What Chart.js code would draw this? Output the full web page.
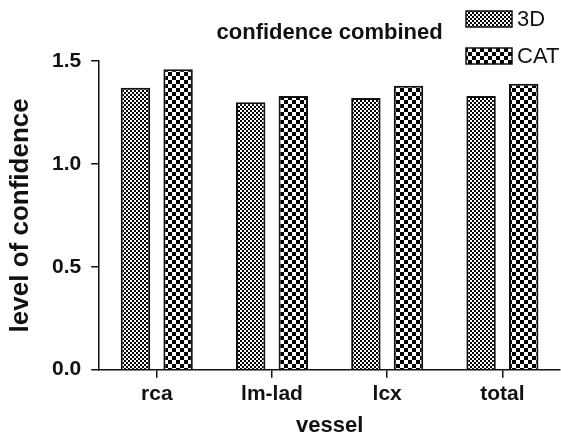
<!DOCTYPE html>
<html lang="en">
  <head>
    <meta charset="UTF-8" />
    <title>confidence combined</title>
    <script src="https://cdn.jsdelivr.net/npm/chart.js@4"></script>
    <style>
      html, body { margin: 0; padding: 0; background: #fff; }
      #wrap { width: 561px; height: 437px; }
    </style>
  </head>
  <body>
    <div id="wrap"><canvas id="chart"></canvas></div>
    <script>
      const vessels = ["rca", "lm-lad", "lcx", "total"];
      const conf3D = [1.37, 1.30, 1.32, 1.33];
      const confCAT = [1.46, 1.33, 1.38, 1.39];
      const yTicks = [0, 0.5, 1.0, 1.5];

      const FONT = "'Liberation Sans', Arial, sans-serif";
      const INK = "#111";

      // black/white checkerboard fill, cell = size px
      function checker(size) {
        const c = document.createElement("canvas");
        c.width = c.height = size * 2;
        const g = c.getContext("2d");
        g.fillStyle = "#fff";
        g.fillRect(0, 0, size * 2, size * 2);
        g.fillStyle = "#000";
        g.fillRect(0, 0, size, size);
        g.fillRect(size, size, size, size);
        return g.createPattern(c, "repeat");
      }

      // legend stacked in the top right corner, above the plot
      const sideLegend = {
        id: "sideLegend",
        afterDraw(chart) {
          const ctx = chart.ctx;
          const x = chart.chartArea.right - 94;
          const rows = [19, 56];
          ctx.save();
          ctx.font = "22px " + FONT;
          ctx.textBaseline = "middle";
          chart.data.datasets.forEach((ds, i) => {
            const y = rows[i];
            ctx.fillStyle = ds.backgroundColor;
            ctx.fillRect(x, y - 8, 46, 16);
            ctx.strokeStyle = INK;
            ctx.lineWidth = 1.5;
            ctx.strokeRect(x, y - 8, 46, 16);
            ctx.fillStyle = INK;
            ctx.fillText(ds.label, x + 51, y + 1);
          });
          ctx.restore();
        },
      };

      const ctx = document.getElementById("chart").getContext("2d");

      new Chart(ctx, {
        type: "bar",
        data: {
          labels: vessels,
          datasets: [
            {
              label: "3D",
              data: conf3D,
              backgroundColor: checker(2),
              borderColor: INK,
              borderWidth: 2,
            },
            {
              label: "CAT",
              data: confCAT,
              backgroundColor: checker(4),
              borderColor: INK,
              borderWidth: 2,
            },
          ],
        },
        options: {
          responsive: true,
          maintainAspectRatio: false,
          animation: false,
          categoryPercentage: 0.74,
          barPercentage: 0.69,
          layout: { padding: { left: 0, right: 1, top: 0, bottom: 0 } },
          plugins: {
            legend: { display: false },
            tooltip: { enabled: false },
            title: {
              display: true,
              text: "confidence combined",
              fullSize: false,
              color: INK,
              font: { family: FONT, size: 22, weight: "bold", lineHeight: 1.2 },
              padding: { top: 20, bottom: 14.6 },
            },
          },
          scales: {
            x: {
              offset: true,
              grid: {
                offset: false,
                drawOnChartArea: false,
                drawTicks: true,
                tickLength: 8,
                color: INK,
                lineWidth: 1.5,
              },
              border: { display: true, color: INK, width: 1.5 },
              ticks: {
                color: INK,
                padding: 4,
                font: { family: FONT, size: 21, weight: "bold" },
              },
              title: {
                display: true,
                text: "vessel",
                color: INK,
                font: { family: FONT, size: 22, weight: "bold", lineHeight: 1.05 },
                padding: { top: 3, bottom: 0 },
              },
            },
            y: {
              min: 0,
              max: 1.5,
              afterBuildTicks: (scale) => {
                scale.ticks = yTicks.map((v) => ({ value: v }));
              },
              grid: {
                drawOnChartArea: false,
                drawTicks: true,
                tickLength: 8,
                color: INK,
                lineWidth: 1.5,
              },
              border: { display: true, color: INK, width: 1.5 },
              ticks: {
                color: INK,
                padding: 10,
                callback: (v) => Number(v).toFixed(1),
                font: { family: FONT, size: 21, weight: "bold" },
              },
              title: {
                display: true,
                text: "level of confidence",
                color: INK,
                font: { family: FONT, size: 26, weight: "bold", lineHeight: 1 },
                padding: { top: 8, bottom: 8 },
              },
            },
          },
        },
        plugins: [sideLegend],
      });
    </script>
  </body>
</html>
